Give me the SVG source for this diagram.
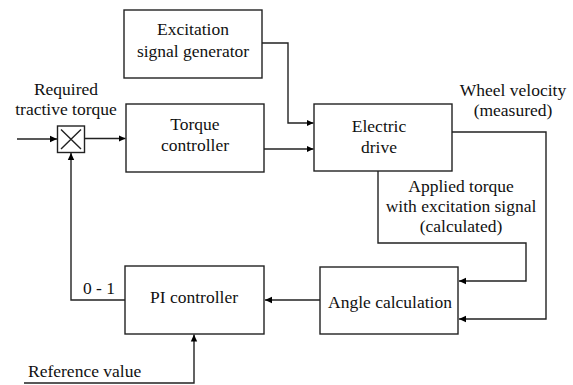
<svg xmlns="http://www.w3.org/2000/svg" width="573" height="385" viewBox="0 0 573 385">
<defs>
<marker id="ah" markerWidth="8" markerHeight="8" refX="7" refY="4" orient="auto" markerUnits="userSpaceOnUse">
<path d="M0,0.8 L7,4 L0,7.2 Z" fill="#000"/>
</marker>
<style>
.box{fill:#fff;stroke:#222;stroke-width:1.4}
.ln{fill:none;stroke:#222;stroke-width:1.4}
.ar{fill:none;stroke:#222;stroke-width:1.4;marker-end:url(#ah)}
text{font-family:"Liberation Serif","Times New Roman",Tinos,"Noto Serif","DejaVu Serif",serif;font-size:17.5px;fill:#111;text-anchor:middle}
</style>
</defs>
<rect width="573" height="385" fill="#fff"/>
<g id="connectors">
<path class="ar" d="M17,139 H57"/>
<path class="ar" d="M84.5,138.5 H125.5"/>
<path class="ar" d="M262,43 H288 V123 H313.5"/>
<path class="ar" d="M264,149 H313.5"/>
<path class="ar" d="M452,132 H546 V319 H459"/>
<path class="ar" d="M378,171 V243 H526 V281 H459"/>
<path class="ar" d="M320,300 H265"/>
<path class="ar" d="M125,300 H71 V153"/>
<path class="ar" d="M24,383 H194 V334.5"/>
</g>
<g id="mult">
<rect class="box" x="57.5" y="126" width="27" height="26.5"/>
<path class="ln" d="M61,129.5 L81,149 M81,129.5 L61,149"/>
</g>
<g id="excitation">
<rect class="box" x="124" y="10" width="138" height="68"/>
<text x="193" y="35">Excitation</text>
<text x="193" y="57">signal generator</text>
</g>
<g id="torque">
<rect class="box" x="126" y="104" width="138" height="68"/>
<text x="195" y="130">Torque</text>
<text x="195" y="151">controller</text>
</g>
<g id="drive">
<rect class="box" x="314" y="104" width="138" height="67"/>
<text x="379" y="132">Electric</text>
<text x="379" y="153">drive</text>
</g>
<g id="angle">
<rect class="box" x="320" y="267" width="138" height="67"/>
<text x="390" y="308">Angle calculation</text>
</g>
<g id="pi">
<rect class="box" x="125" y="266" width="139" height="68"/>
<text x="194" y="303">PI controller</text>
</g>
<g id="labels">
<text x="66" y="95">Required</text>
<text x="66" y="115">tractive torque</text>
<text x="513" y="96">Wheel velocity</text>
<text x="513" y="116">(measured)</text>
<text x="461" y="192">Applied torque</text>
<text x="461" y="212">with excitation signal</text>
<text x="461" y="232">(calculated)</text>
<text x="99" y="294">0 - 1</text>
<text x="28" y="377" style="text-anchor:start">Reference value</text>
</g>
</svg>
